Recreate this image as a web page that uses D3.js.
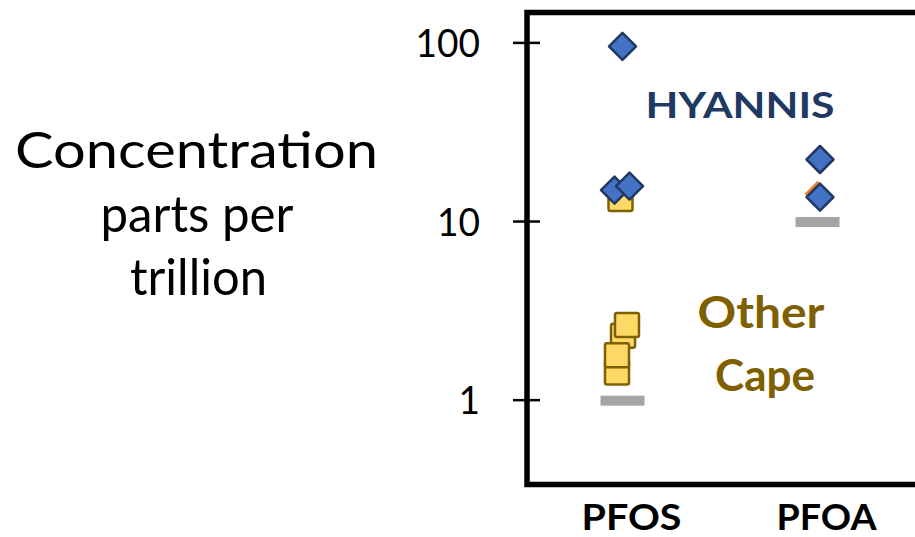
<!DOCTYPE html>
<html>
<head>
<meta charset="utf-8">
<script src="https://cdn.jsdelivr.net/npm/d3@7"></script>
<style>
  html, body { margin: 0; padding: 0; background: #fff; }
  svg { display: block; font-family: Lato, "Open Sans", sans-serif; }
</style>
</head>
<body>
<svg id="chart" width="915" height="537"></svg>
<script>
// Compounds on the x axis
const categories = ["PFOS", "PFOA"];
// y axis ticks (log scale)
const tickValues = [1, 10, 100];
const tickLabels = ["1", "10", "100"];

// Hyannis samples, ppt
const hyannisCompound = ["PFOS", "PFOS", "PFOS", "PFOA", "PFOA"];
const hyannisValues   = [95, 14.9, 15.7, 22.1, 13.6];
const hyannisJitter   = [0, -8, 7, 2.5, 2.5];

// Other Cape samples, ppt
const capeCompound = ["PFOS", "PFOS", "PFOS", "PFOS", "PFOS"];
const capeValues   = [13.3, 1.42, 2.28, 1.77, 2.62];
const capeJitter   = [-2, -5.5, 0.5, -5.5, 4.5];

// Additional sample mostly hidden under a Hyannis point
const extraCompound = ["PFOA"];
const extraValues   = [14.2];
const extraJitter   = [0];

// Guideline levels per compound
const guideCompound = ["PFOS", "PFOA"];
const guideValues   = [1, 10];

const svg = d3.select("#chart");

const plot = { left: 527, right: 925, top: 12.5, bottom: 484.5 };

const x = d3.scaleBand().domain(categories).range([525, 915]);
const y = d3.scaleLog().domain([0.335, 147]).range([plot.bottom, plot.top]);
const cx = c => x(c) + x.bandwidth() / 2;

// Text helper: font size sets the height, textLength sets the width
function label(px, py, str, size, width, opts = {}) {
  return svg.append("text")
    .attr("x", px).attr("y", py)
    .attr("text-anchor", "middle")
    .attr("font-size", size)
    .attr("font-weight", opts.bold ? "bold" : "normal")
    .attr("fill", opts.fill || "#000")
    .attr("textLength", width)
    .attr("lengthAdjust", "spacingAndGlyphs")
    .text(str);
}

// Axis title block on the left
label(196.5, 168, "Concentration", 50, 363);
label(197, 232, "parts per", 50, 193);
label(198.5, 295, "trillion", 50, 137);

// Guideline bars
svg.append("g").selectAll("rect").data(guideValues).join("rect")
  .attr("x", (d, i) => cx(guideCompound[i]) - 22)
  .attr("y", d => y(d) - 4)
  .attr("width", 44).attr("height", 10)
  .attr("fill", "#a5a5a5");

// Other Cape squares
svg.append("g").selectAll("rect").data(capeValues).join("rect")
  .attr("x", (d, i) => cx(capeCompound[i]) + capeJitter[i] - 12)
  .attr("y", d => y(d) - 12)
  .attr("width", 24).attr("height", 24).attr("rx", 2)
  .attr("fill", "#ffd966").attr("stroke", "#7f6000").attr("stroke-width", 2.5);

const diamond = r => `M0,${-r}L${r},0L0,${r}L${-r},0Z`;

// Extra sample (orange)
svg.append("g").selectAll("path").data(extraValues).join("path")
  .attr("transform", (d, i) => `translate(${cx(extraCompound[i]) + extraJitter[i]},${y(d)})`)
  .attr("d", diamond(13))
  .attr("fill", "#ed7d31");

// Hyannis diamonds
svg.append("g").selectAll("path").data(hyannisValues).join("path")
  .attr("transform", (d, i) => `translate(${cx(hyannisCompound[i]) + hyannisJitter[i]},${y(d)})`)
  .attr("d", diamond(13.5))
  .attr("fill", "#4472c4").attr("stroke", "#1f3864").attr("stroke-width", 2.5)
  .attr("stroke-linejoin", "round");

// Frame (right side runs past the edge)
svg.append("path")
  .attr("d", `M${plot.right},${plot.top}H${plot.left}V${plot.bottom}H${plot.right}`)
  .attr("fill", "none").attr("stroke", "#000").attr("stroke-width", 5.5);

// y axis
const yAxis = svg.append("g").attr("transform", `translate(${plot.left},0)`)
  .call(d3.axisLeft(y).tickValues(tickValues).tickFormat((d, i) => tickLabels[i])
    .tickSize(14).tickPadding(33));
yAxis.select(".domain").remove();
yAxis.selectAll(".tick line").attr("x2", 13).attr("x1", -14)
  .attr("stroke", "#000").attr("stroke-width", 2.5);
yAxis.selectAll(".tick text").attr("font-size", 39).attr("fill", "#000")
  .attr("dy", "0.36em").attr("font-family", "Lato, sans-serif")
  .attr("textLength", (d, i) => 21.5 * tickLabels[i].length)
  .attr("lengthAdjust", "spacingAndGlyphs");

// x axis labels
const xAxis = svg.append("g").attr("transform", `translate(0,${plot.bottom})`)
  .call(d3.axisBottom(x).tickSize(0).tickPadding(0));
xAxis.select(".domain").remove();
xAxis.selectAll(".tick text").attr("font-size", 37).attr("font-weight", "bold")
  .attr("fill", "#000").attr("dy", 0).attr("y", 45.5).attr("dx", 9)
  .attr("font-family", "Lato, sans-serif")
  .attr("textLength", 100).attr("lengthAdjust", "spacingAndGlyphs");

// Group labels
label(740, 118, "HYANNIS", 36, 189, { bold: true, fill: "#1f3864" });
label(761, 328, "Other", 43, 127, { bold: true, fill: "#7f6000" });
label(765, 391, "Cape", 43, 100, { bold: true, fill: "#7f6000" });
</script>
</body>
</html>
